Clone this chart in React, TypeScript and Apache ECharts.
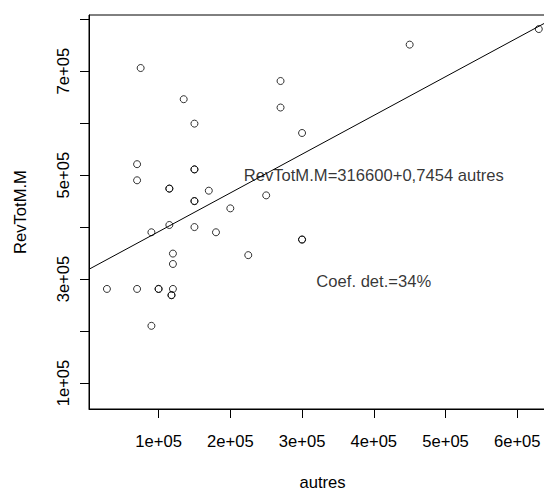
import React, { useEffect, useRef } from "react";
import * as echarts from "echarts";

// Scatter data: autres (x) vs RevTotM.M (y)
const autres = [
  75000, 270000, 135000, 270000, 150000, 300000, 70000, 70000, 150000, 150000,
  115000, 115000, 170000, 150000, 150000, 250000, 200000, 90000, 115000, 150000,
  180000, 300000, 300000, 120000, 120000, 225000, 28000, 70000, 100000, 100000,
  120000, 118000, 118000, 90000, 450000, 630000,
];
const revTot = [
  706000, 681000, 646000, 630000, 599000, 581000, 521000, 490000, 511000, 511000,
  474000, 474000, 470000, 450000, 450000, 461000, 436000, 390000, 404000, 400000,
  390000, 376000, 376000, 349000, 329000, 346000, 281000, 281000, 281000, 281000,
  281000, 269000, 269000, 210000, 751000, 781000,
];

// Regression coefficients
const intercept = 316600;
const slope = 0.7454;

// Axes
const xMin = 3000;
const xMax = 654000;
const yMin = 50000;
const yMax = 808000;
const xTickValues = [100000, 200000, 300000, 400000, 500000, 600000];
const xTickLabels = ["1e+05", "2e+05", "3e+05", "4e+05", "5e+05", "6e+05"];
const yTickValues = [100000, 200000, 300000, 400000, 500000, 600000, 700000, 800000];
const yLabelValues = [100000, 300000, 500000, 700000];
const yLabelTexts = ["1e+05", "3e+05", "5e+05", "7e+05"];

// Annotations
const annotations = [
  { x: 400000, y: 500000, text: "RevTotM.M=316600+0,7454 autres" },
  { x: 400000, y: 295000, text: "Coef. det.=34%" },
];

const FONT = "Liberation Sans, Arial, Helvetica, sans-serif";
const FS = 16.6;

export default function App() {
  const ref = useRef<HTMLDivElement>(null);
  useEffect(() => {
    if (!ref.current) return;
    const chart = echarts.init(ref.current, undefined, { renderer: "svg" });
    const points = autres.map((x, i) => [x, revTot[i]]);
    const lineData = [
      [xMin, intercept + slope * xMin],
      [xMax, intercept + slope * xMax],
    ];
    chart.setOption({
      animation: false,
      backgroundColor: "#ffffff",
      textStyle: { fontFamily: FONT },
      grid: {
        left: 89,
        top: 15,
        right: 0,
        bottom: 81,
        containLabel: false,
        outerBoundsMode: "none",
        show: true,
        borderColor: "#000",
        borderWidth: 1,
        backgroundColor: "transparent",
      },
      xAxis: {
        type: "value",
        min: xMin,
        max: xMax,
        name: "autres",
        nameLocation: "middle",
        nameGap: 66,
        nameTextStyle: {
          fontFamily: FONT,
          fontSize: FS,
          color: "#000",
          lineHeight: 14,
        },
        splitLine: { show: false },
        axisLine: { show: true, lineStyle: { color: "#000", width: 1 } },
        axisTick: {
          show: true,
          length: 9,
          customValues: xTickValues,
          lineStyle: { color: "#000", width: 1 },
        },
        axisLabel: {
          customValues: xTickValues,
          margin: 24,
          fontFamily: FONT,
          fontSize: FS,
          color: "#000",
          formatter: (v: number) => {
            const i = xTickValues.indexOf(v);
            return i >= 0 ? xTickLabels[i] : "";
          },
        },
      },
      yAxis: {
        type: "value",
        min: yMin,
        max: yMax,
        name: "RevTotM.M",
        nameLocation: "middle",
        nameGap: 60,
        nameRotate: 90,
        nameTextStyle: { fontFamily: FONT, fontSize: FS, color: "#000" },
        splitLine: { show: false },
        axisLine: { show: true, lineStyle: { color: "#000", width: 1 } },
        axisTick: {
          show: true,
          length: 9,
          customValues: yTickValues,
          lineStyle: { color: "#000", width: 1 },
        },
        axisLabel: {
          customValues: yLabelValues,
          rotate: 90,
          margin: 17,
          fontFamily: FONT,
          fontSize: FS,
          color: "#000",
          formatter: (v: number) => {
            const i = yLabelValues.indexOf(v);
            return i >= 0 ? yLabelTexts[i] : "";
          },
        },
      },
      series: [
        {
          type: "scatter",
          data: points,
          symbol: "circle",
          symbolSize: 7,
          silent: true,
          itemStyle: {
            color: "rgba(0,0,0,0)",
            borderColor: "#000",
            borderWidth: 1,
          },
        },
        {
          type: "line",
          data: lineData,
          symbol: "none",
          silent: true,
          lineStyle: { color: "#000", width: 1 },
        },
        {
          type: "scatter",
          data: annotations.map((a) => ({ value: [a.x, a.y], text: a.text })),
          symbolSize: 0,
          silent: true,
          label: {
            show: true,
            position: "inside",
            fontFamily: FONT,
            fontSize: FS,
            color: "#000",
            formatter: (p: any) => annotations[p.dataIndex].text,
          },
        },
      ],
    });
    return () => chart.dispose();
  }, []);
  return (
    <div
      style={{
        position: "fixed",
        left: 0,
        top: 0,
        width: 544,
        height: 490,
        overflow: "hidden",
        background: "#fff",
      }}
    >
      <div ref={ref} style={{ width: 556, height: 490 }} />
    </div>
  );
}
